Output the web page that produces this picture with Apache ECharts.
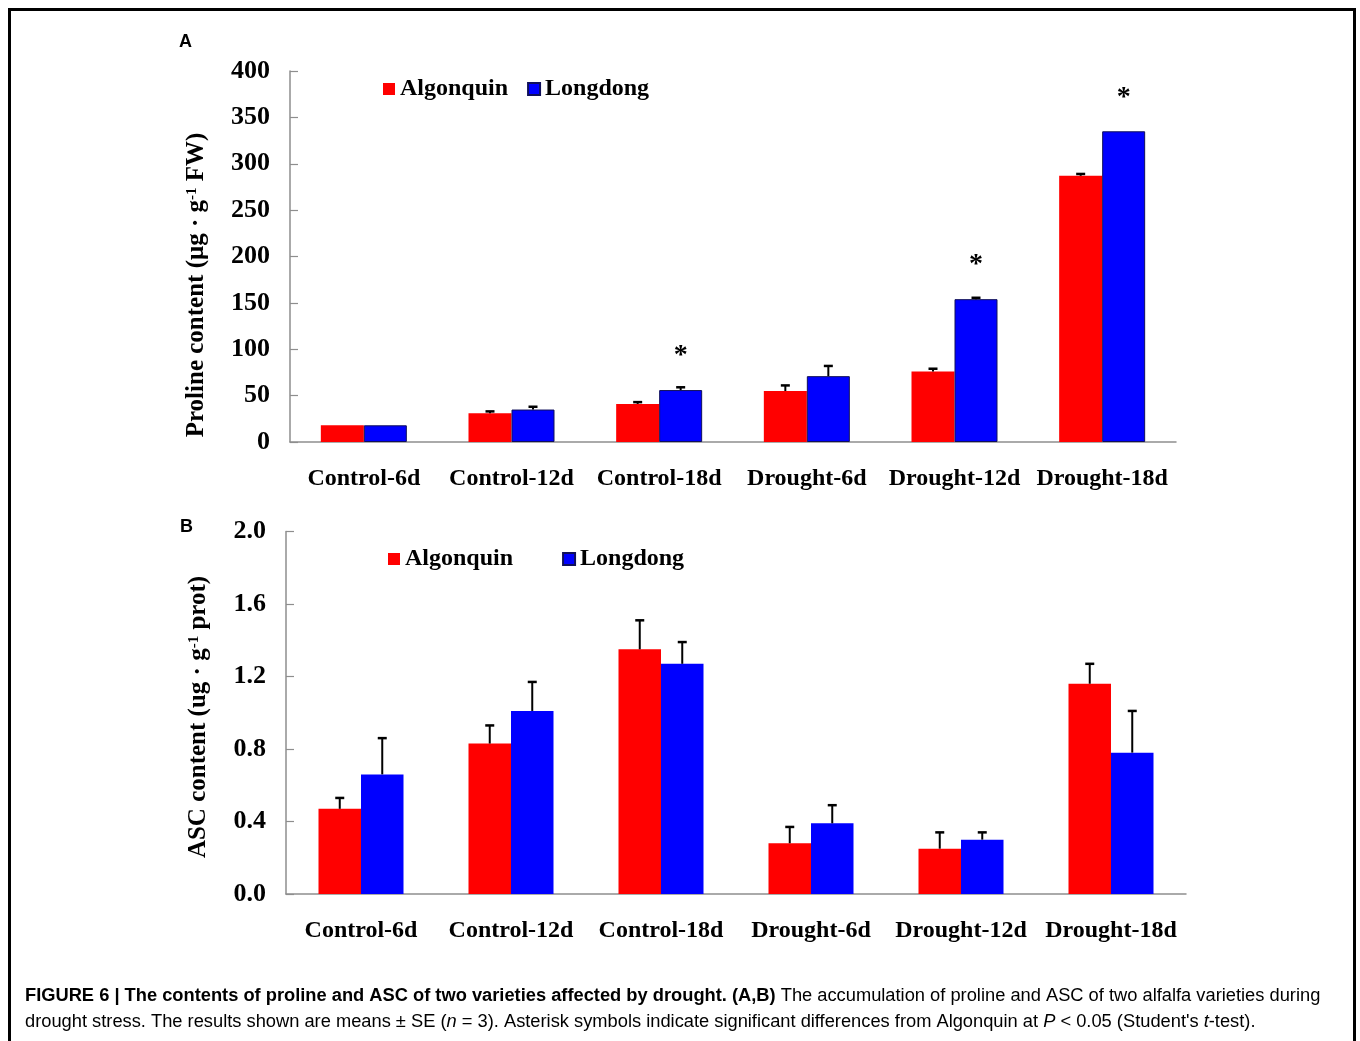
<!DOCTYPE html>
<html>
<head>
<meta charset="utf-8">
<title>Figure 6</title>
<script src="https://cdn.jsdelivr.net/npm/echarts@6/dist/echarts.min.js"></script>
<style>
  html, body { margin: 0; padding: 0; background: #fff; }
  #main { width: 1360px; height: 1041px; }
</style>
</head>
<body>
<div id="main"></div>
<script>
var categories = ['Control-6d', 'Control-12d', 'Control-18d', 'Drought-6d', 'Drought-12d', 'Drought-18d'];

// panel A - proline
var prolineAlg = [18, 31, 41, 55, 76, 287];
var prolineAlgSE = [0, 2, 2, 6, 3, 2];
var prolineLong = [18, 35, 56, 71, 154, 335];
var prolineLongSE = [0, 3, 3, 11, 1.5, 0];
var prolineSig = [0, 0, 1, 0, 1, 1];

// panel B - ASC
var ascAlg = [0.47, 0.83, 1.35, 0.28, 0.25, 1.16];
var ascAlgSE = [0.06, 0.10, 0.16, 0.09, 0.09, 0.11];
var ascLong = [0.66, 1.01, 1.27, 0.39, 0.30, 0.78];
var ascLongSE = [0.20, 0.16, 0.12, 0.10, 0.04, 0.23];

var serif = "'Liberation Serif', 'Times New Roman', serif";
var sans = "'Liberation Sans', Arial, sans-serif";
var axisGrey = '#8e8e8e';

function errData(vals, se) {
    var out = [];
    for (var i = 0; i < vals.length; i++) {
        out.push([i, vals[i], se[i]]);
    }
    return out;
}

// upper whisker only, shifted onto the bar
function errorItem(offset) {
    return function (params, api) {
        var i = api.value(0), v = api.value(1), e = api.value(2);
        if (!e) return;
        var p0 = api.coord([i, v]);
        var p1 = api.coord([i, v + e]);
        var x = p0[0] + offset;
        return {
            type: 'group',
            children: [
                { type: 'line', shape: { x1: x, y1: p0[1], x2: x, y2: p1[1] }, style: { stroke: '#000', lineWidth: 2 } },
                { type: 'line', shape: { x1: x - 4.5, y1: p1[1], x2: x + 4.5, y2: p1[1] }, style: { stroke: '#000', lineWidth: 2.5 } }
            ]
        };
    };
}

function starData(vals, sig) {
    var out = [];
    for (var i = 0; i < vals.length; i++) {
        out.push({ value: vals[i], label: { show: sig[i] === 1 } });
    }
    return out;
}

function xAxisFor(grid) {
    return {
        type: 'category',
        gridIndex: grid,
        data: categories,
        axisLine: { lineStyle: { color: axisGrey, width: 1.5 } },
        axisTick: { inside: true, length: 8, interval: 0, lineStyle: { color: axisGrey, width: 1.2 } },
        axisLabel: {
            interval: 0, hideOverlap: false,
            color: '#000', fontFamily: serif, fontWeight: 'bold', fontSize: 24, margin: 25
        },
        splitLine: { show: false }
    };
}

function yAxisFor(grid, max, step, digits) {
    return {
        type: 'value',
        gridIndex: grid,
        min: 0,
        max: max,
        interval: step,
        axisLine: { show: true, lineStyle: { color: axisGrey, width: 1.5 } },
        axisTick: { show: true, inside: true, length: 8, lineStyle: { color: axisGrey, width: 1.2 } },
        axisLabel: {
            color: '#000', fontFamily: serif, fontWeight: 'bold', fontSize: 26, margin: 20,
            formatter: function (v) { return v.toFixed(digits); }
        },
        splitLine: { show: false }
    };
}

function legendFor(left, top, gap) {
    return {
        left: left,
        top: top,
        itemGap: gap,
        itemWidth: 12,
        itemHeight: 12,
        icon: 'rect',
        data: ['Algonquin', 'Longdong'],
        textStyle: { color: '#000', fontFamily: serif, fontWeight: 'bold', fontSize: 24 }
    };
}

var nameRich = {
    t: { fontFamily: serif, fontWeight: 'bold', fontSize: 25, color: '#000' },
    s: { fontFamily: serif, fontWeight: 'bold', fontSize: 15, color: '#000', verticalAlign: 'top', padding: [0, 0, 8, 0] }
};

var capStyle = { fontFamily: sans, fontSize: 18.3, color: '#231f20' };

var options = {
    animation: false,
    backgroundColor: '#fff',
    grid: [
        { left: 290, top: 71, width: 886, height: 371 },
        { left: 286, top: 531.5, width: 900, height: 362.5 }
    ],
    legend: [legendFor(378, 72, 19), legendFor(383, 542, 49)],
    xAxis: [xAxisFor(0), xAxisFor(1)],
    yAxis: [yAxisFor(0, 400, 50, 0), yAxisFor(1, 2, 0.4, 1)],
    series: [
        {
            name: 'Algonquin', type: 'bar', xAxisIndex: 0, yAxisIndex: 0,
            barWidth: 43, barGap: '0%',
            itemStyle: { color: '#ff0000' },
            data: prolineAlg
        },
        {
            name: 'Longdong', type: 'bar', xAxisIndex: 0, yAxisIndex: 0,
            barWidth: 43, barGap: '0%',
            itemStyle: { color: '#0000ff', borderColor: '#10105a', borderWidth: 1 },
            label: {
                position: 'top', distance: 20, formatter: '*',
                color: '#000', fontFamily: serif, fontWeight: 'bold', fontSize: 28
            },
            data: starData(prolineLong, prolineSig)
        },
        {
            name: 'Algonquin', type: 'bar', xAxisIndex: 1, yAxisIndex: 1,
            barWidth: 42.5, barGap: '0%',
            itemStyle: { color: '#ff0000' },
            data: ascAlg
        },
        {
            name: 'Longdong', type: 'bar', xAxisIndex: 1, yAxisIndex: 1,
            barWidth: 42.5, barGap: '0%',
            itemStyle: { color: '#0000ff' },
            data: ascLong
        },
        { type: 'custom', xAxisIndex: 0, yAxisIndex: 0, z: 5, renderItem: errorItem(-21.5), data: errData(prolineAlg, prolineAlgSE) },
        { type: 'custom', xAxisIndex: 0, yAxisIndex: 0, z: 5, renderItem: errorItem(21.5), data: errData(prolineLong, prolineLongSE) },
        { type: 'custom', xAxisIndex: 1, yAxisIndex: 1, z: 5, renderItem: errorItem(-21.25), data: errData(ascAlg, ascAlgSE) },
        { type: 'custom', xAxisIndex: 1, yAxisIndex: 1, z: 5, renderItem: errorItem(21.25), data: errData(ascLong, ascLongSE) }
    ],
    graphic: [
        {
            type: 'rect', silent: true,
            shape: { x: 9.5, y: 9.5, width: 1345, height: 1100 },
            style: { fill: 'none', stroke: '#000', lineWidth: 3 }
        },
        { type: 'text', left: 179, top: 33, style: { text: 'A', font: 'bold 18px ' + sans, fill: '#000' } },
        { type: 'text', left: 180, top: 518, style: { text: 'B', font: 'bold 18px ' + sans, fill: '#000' } },
        {
            type: 'text', x: 197, y: 285, rotation: Math.PI / 2,
            style: { text: '{t|Proline content (μg · g}{s|-1}{t| FW)}', rich: nameRich, align: 'center', verticalAlign: 'middle' }
        },
        {
            type: 'text', x: 199, y: 717, rotation: Math.PI / 2,
            style: { text: '{t|ASC content (ug · g}{s|-1}{t| prot)}', rich: nameRich, align: 'center', verticalAlign: 'middle' }
        },
        {
            type: 'text', left: 25, top: 987,
            style: {
                text: '{b|FIGURE 6 | The contents of proline and ASC of two varieties affected by drought. (A,B)}{n| The accumulation of proline and ASC of two alfalfa varieties during}',
                rich: {
                    b: Object.assign({ fontWeight: 'bold' }, capStyle),
                    n: capStyle
                }
            }
        },
        {
            type: 'text', left: 25, top: 1013,
            style: {
                text: '{n|drought stress. The results shown are means ± SE (}{i|n}{n| = 3). Asterisk symbols indicate significant differences from Algonquin at }{i|P}{n| < 0.05 (Student\'s }{i|t}{n|-test).}',
                rich: {
                    n: capStyle,
                    i: Object.assign({ fontStyle: 'italic' }, capStyle)
                }
            }
        }
    ]
};

var myChart = echarts.init(document.getElementById('main'));
myChart.setOption(options);
</script>
</body>
</html>
